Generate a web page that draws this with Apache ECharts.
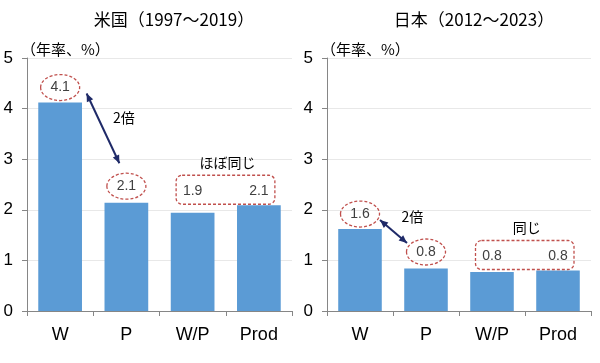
<!DOCTYPE html>
<html><head><meta charset="utf-8">
<script src="https://cdn.jsdelivr.net/npm/echarts@6/dist/echarts.min.js"></script>
<style>html,body{margin:0;padding:0;background:#fff}#c{width:600px;height:363px}</style>
</head><body><div id="c"></div>
<script>
var categories = ['W', 'P', 'W/P', 'Prod'];
var usValues = [4.12, 2.14, 1.94, 2.09];
var jpValues = [1.62, 0.84, 0.77, 0.80];
var titles = ['米国（1997〜2019）', '日本（2012〜2023）'];
var unitLabel = '（年率、%）';
var yTicks = [0, 1, 2, 3, 4, 5];
var ratioText = '2倍';
var sameText = ['ほぼ同じ', '同じ'];

var FONT = 'Liberation Sans, Arial, sans-serif';
var CJK = '"Noto Sans CJK JP", sans-serif';
var BAR = '#5b9bd5';
var AXIS = '#868686';
var RED = '#c0504d';
var NAVY = '#1f2a68';

var chart = echarts.init(document.getElementById('c'), null, {renderer: 'canvas'});

function xAxis(g) {
  return {
    type: 'category', gridIndex: g, data: categories,
    axisLine: {lineStyle: {color: AXIS, width: 1}},
    axisTick: {show: true, length: 5, lineStyle: {color: AXIS}},
    axisLabel: {color: '#000', fontSize: 18, fontFamily: FONT, margin: 15}
  };
}
function yAxis(g) {
  return {
    type: 'value', gridIndex: g, min: yTicks[0], max: yTicks[yTicks.length - 1], interval: 1,
    name: unitLabel, nameLocation: 'end', nameGap: 1,
    nameTextStyle: {fontFamily: CJK, fontSize: 15, color: '#000', align: 'left', padding: [0, 0, 0, -6]},
    axisLine: {show: true, lineStyle: {color: AXIS}},
    axisTick: {show: true, length: 5, lineStyle: {color: AXIS}},
    axisLabel: {color: '#000', fontSize: 17, fontFamily: FONT, margin: 14},
    splitLine: {lineStyle: {color: '#e8e8e8'}}
  };
}
function series(g, vals) {
  return {
    type: 'bar', xAxisIndex: g, yAxisIndex: g, data: vals,
    barCategoryGap: '34%', itemStyle: {color: BAR}, silent: true, animation: false
  };
}

chart.setOption({
  animation: false,
  title: [
    {text: titles[0], left: 169, top: 6, textAlign: 'center', textStyle: {fontFamily: CJK, fontSize: 17, fontWeight: 'normal', color: '#000'}},
    {text: titles[1], left: 469, top: 6, textAlign: 'center', textStyle: {fontFamily: CJK, fontSize: 17, fontWeight: 'normal', color: '#000'}}
  ],
  grid: [
    {left: 27, top: 58, width: 265, height: 253, containLabel: false},
    {left: 327, top: 58, width: 264, height: 253, containLabel: false}
  ],
  xAxis: [xAxis(0), xAxis(1)],
  yAxis: [yAxis(0), yAxis(1)],
  series: [series(0, usValues), series(1, jpValues)]
});

function px(s, i, v) { return chart.convertToPixel({seriesIndex: s}, [i, v]); }

var els = [];
function labelText(x, y, t) {
  els.push({type: 'text', x: x, y: y, z: 10, style: {text: t, fontFamily: FONT, fontSize: 14, fill: '#404040', align: 'center', verticalAlign: 'middle'}});
}
function ellipse(cx, cy) {
  els.push({type: 'ellipse', z: 10, shape: {cx: cx, cy: cy, rx: 19.5, ry: 13}, style: {fill: 'none', stroke: RED, lineWidth: 1.3, lineDash: [3, 2]}});
}
function arrowHead(x1, y1, x2, y2) {
  var a = Math.atan2(y2 - y1, x2 - x1), L = 8, W = 3.5;
  var bx = x2 - L * Math.cos(a), by = y2 - L * Math.sin(a);
  var nx = -Math.sin(a) * W, ny = Math.cos(a) * W;
  els.push({type: 'polygon', z: 11, shape: {points: [[x2, y2], [bx + nx, by + ny], [bx - nx, by - ny]]}, style: {fill: NAVY}});
}
function dblArrow(x1, y1, x2, y2) {
  els.push({type: 'line', z: 11, shape: {x1: x1, y1: y1, x2: x2, y2: y2}, style: {stroke: NAVY, lineWidth: 2}});
  arrowHead(x1, y1, x2, y2);
  arrowHead(x2, y2, x1, y1);
}

function annotate(s, vals, arrowOff, textOff, same) {
  var w = px(s, 0, vals[0]), p = px(s, 1, vals[1]);
  var cw = [w[0], w[1] - 15], cp = [p[0], p[1] - 16.5];
  ellipse(cw[0], cw[1]); ellipse(cp[0], cp[1]);
  labelText(cw[0], cw[1], vals[0].toFixed(1));
  labelText(cp[0], cp[1], vals[1].toFixed(1));
  var x1 = cw[0] + arrowOff[0], y1 = cw[1] + arrowOff[1];
  var x2 = cp[0] + arrowOff[2], y2 = cp[1] + arrowOff[3];
  dblArrow(x1, y1, x2, y2);
  els.push({type: 'text', z: 10, x: (x1 + x2) / 2 + textOff[0], y: (y1 + y2) / 2 + textOff[1],
    style: {text: ratioText, fontFamily: CJK, fontSize: 14, fill: '#000', align: 'left', verticalAlign: 'middle'}});
  var a = px(s, 2, vals[2]), b = px(s, 3, vals[3]);
  var top = Math.min(a[1], b[1]) - 14;
  labelText(a[0], top, vals[2].toFixed(1));
  labelText(b[0], top, vals[3].toFixed(1));
  var rx1 = a[0] - 16.5, rx2 = b[0] + 16;
  els.push({type: 'rect', z: 10, shape: {x: rx1, y: top - 16, width: rx2 - rx1, height: 29, r: 6},
    style: {fill: 'none', stroke: RED, lineWidth: 1.3, lineDash: [3, 2]}});
  els.push({type: 'text', z: 10, x: (rx1 + rx2) / 2 + 2, y: top - 29,
    style: {text: same, fontFamily: CJK, fontSize: 14, fill: '#000', align: 'center', verticalAlign: 'middle'}});
}

annotate(0, usValues, [26.5, 6, -7, -23], [10, -11], sameText[0]);
annotate(1, jpValues, [20, 6, -19, -9], [8, -15], sameText[1]);

chart.setOption({graphic: {elements: els}});
</script>
</body></html>
